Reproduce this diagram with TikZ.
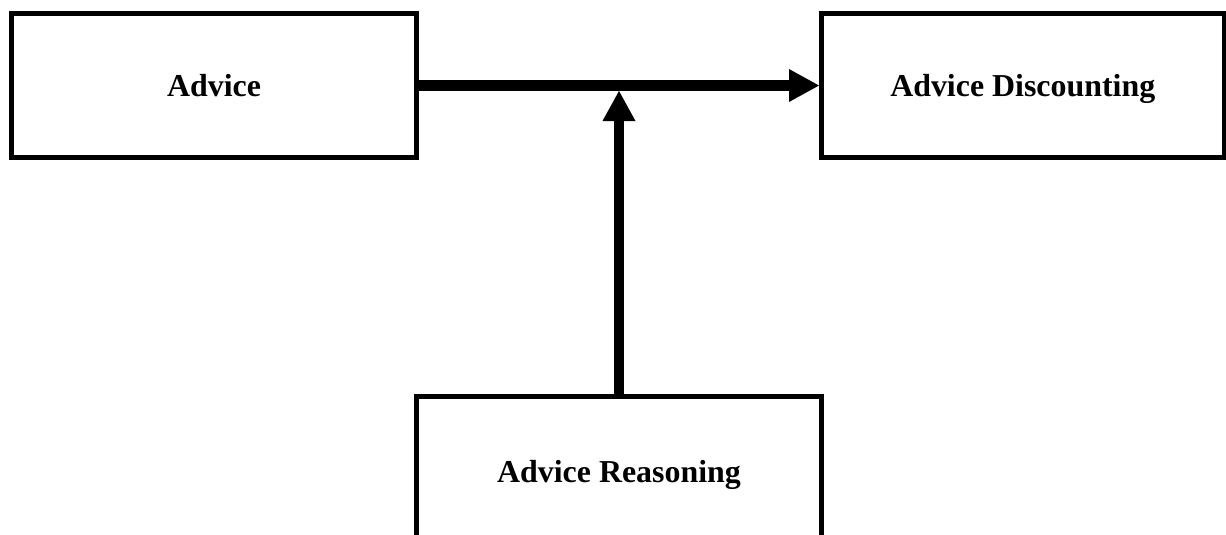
\documentclass[tikz,border=0pt]{standalone}
\usepackage{fontspec}
\setmainfont{Liberation Serif}
\usetikzlibrary{arrows.meta}
\begin{document}
\begin{tikzpicture}[x=1pt,y=-1pt,
  box/.style={draw=black,line width=5pt,inner sep=0pt,minimum height=144pt,
    text height=22pt,text depth=0pt,
    font=\fontsize{31.9pt}{36pt}\selectfont\bfseries},
  conn/.style={draw=black,-{Triangle[length=30pt,width=33pt,line width=0pt]}}]
\useasboundingbox (0,0) rectangle (1226,535);
\node[box,minimum width=405pt] (advice) at (214,85.5) {Advice};
\node[box,minimum width=402.5pt] (disc) at (1022.75,85.5) {Advice Discounting};
\node[box,minimum width=405pt,minimum height=149pt] (reason) at (619,471) {Advice Reasoning};
\coordinate (meet) at (619,91);
\draw[conn,line width=11pt] (advice.east) -- (disc.west);
\draw[conn,line width=10pt] (reason.north) -- (meet);
\end{tikzpicture}
\end{document}
